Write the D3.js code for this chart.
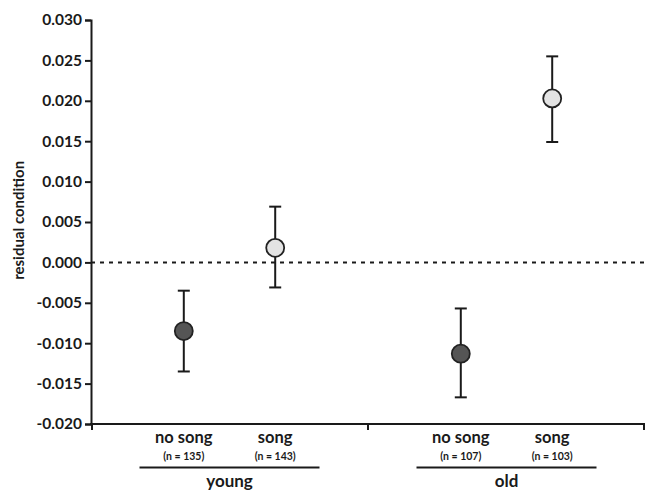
<!DOCTYPE html>
<html>
<head>
<meta charset="utf-8">
<script src="https://cdn.jsdelivr.net/npm/d3@7"></script>
<style>
  body { margin: 0; background: #fff; }
  svg text { font-family: Lato, "Open Sans", sans-serif; font-weight: bold; fill: #1a1a1a; }
</style>
</head>
<body>
<svg id="chart" width="646" height="490"></svg>
<script>
// data
var groups = ['young', 'old']
var songs = ['no song', 'song']
var counts = [[135, 143], [107, 103]]
var means = [[-0.0085, 0.0018], [-0.0113, 0.0203]]
var upper = [[-0.0035, 0.0069], [-0.0057, 0.0255]]
var lower = [[-0.0135, -0.0031], [-0.0167, 0.0149]]
var yTicks = [-0.020, -0.015, -0.010, -0.005, 0.000, 0.005, 0.010, 0.015, 0.020, 0.025, 0.030]

;(function () {
  var svg = d3.select('#chart')
  // plot box (note: "top" is a reserved window prop, so use plotTop)
  var plotLeft = 91, plotRight = 645, plotTop = 20, plotBottom = 424
  var ink = '#1a1a1a'

  var mapy = d3.scaleLinear().domain([-0.020, 0.030]).range([plotBottom, plotTop])
  var mapg = d3.scaleBand().domain(groups).range([plotLeft, plotRight])
  var maps = d3.scalePoint().domain(songs).range([0, mapg.bandwidth() * 0.33]).padding(0)

  function cx (gi, si) {
    var mid = mapg(groups[gi]) + mapg.bandwidth() / 2
    return mid - maps(songs[1]) / 2 + maps(songs[si])
  }

  var rows = []
  groups.forEach(function (g, gi) {
    songs.forEach(function (s, si) {
      rows.push({g: gi, s: si, mean: means[gi][si], hi: upper[gi][si], lo: lower[gi][si], n: counts[gi][si]})
    })
  })

  // zero line
  svg.append('line')
    .attr('x1', plotLeft).attr('x2', plotRight)
    .attr('y1', mapy(0)).attr('y2', mapy(0))
    .attr('stroke', ink).attr('stroke-width', 2)
    .attr('stroke-dasharray', '4,5')

  // y axis
  var yAxis = svg.append('g')
    .attr('transform', 'translate(' + plotLeft + ',0)')
    .call(d3.axisLeft(mapy).tickValues(yTicks).tickSize(6).tickPadding(3))
  yAxis.select('.domain').attr('stroke', ink).attr('stroke-width', 2)
  yAxis.selectAll('.tick line').attr('stroke', ink).attr('stroke-width', 2)
  yAxis.selectAll('.tick text')
    .attr('font-size', 15.5).attr('font-family', null).attr('fill', ink)
    .text(function (d) { return d3.format('.3f')(d).replace('−', '-') })

  // x axis
  svg.append('line')
    .attr('x1', plotLeft - 1).attr('x2', plotRight)
    .attr('y1', plotBottom).attr('y2', plotBottom)
    .attr('stroke', ink).attr('stroke-width', 2)
  var xTicks = [plotLeft + 1, mapg('old'), plotRight - 1]
  svg.selectAll('.xtick').data(xTicks).enter().append('line')
    .attr('x1', d => d).attr('x2', d => d)
    .attr('y1', plotBottom).attr('y2', plotBottom + 6)
    .attr('stroke', ink).attr('stroke-width', 2)

  // error bars
  var bars = svg.append('g')
  bars.selectAll('.err').data(rows).enter().append('line')
    .attr('x1', d => cx(d.g, d.s)).attr('x2', d => cx(d.g, d.s))
    .attr('y1', d => mapy(d.hi)).attr('y2', d => mapy(d.lo))
    .attr('stroke', ink).attr('stroke-width', 2)
  ;['hi', 'lo'].forEach(function (k) {
    bars.selectAll('.cap-' + k).data(rows).enter().append('line')
      .attr('x1', d => cx(d.g, d.s) - 6).attr('x2', d => cx(d.g, d.s) + 6)
      .attr('y1', d => mapy(d[k])).attr('y2', d => mapy(d[k]))
      .attr('stroke', ink).attr('stroke-width', 2)
  })

  // points
  svg.selectAll('.pt').data(rows).enter().append('circle')
    .attr('cx', d => cx(d.g, d.s))
    .attr('cy', d => mapy(d.mean))
    .attr('r', 9)
    .attr('fill', d => d.s === 0 ? '#555555' : '#e3e3e3')
    .attr('stroke', '#222').attr('stroke-width', 1.8)

  // category labels
  svg.selectAll('.cat').data(rows).enter().append('text')
    .attr('x', d => cx(d.g, d.s)).attr('y', 443)
    .attr('text-anchor', 'middle').attr('font-size', 16.5)
    .text(d => songs[d.s])
  svg.selectAll('.cnt').data(rows).enter().append('text')
    .attr('x', d => cx(d.g, d.s)).attr('y', 460)
    .attr('text-anchor', 'middle').attr('font-size', 10.5)
    .text(d => '(n = ' + d.n + ')')

  // group labels with underline
  groups.forEach(function (g) {
    var mid = mapg(g) + mapg.bandwidth() / 2
    svg.append('line')
      .attr('x1', mid - 90).attr('x2', mid + 90)
      .attr('y1', 467.5).attr('y2', 467.5)
      .attr('stroke', ink).attr('stroke-width', 2)
    svg.append('text')
      .attr('x', mid).attr('y', 487)
      .attr('text-anchor', 'middle').attr('font-size', 17)
      .text(g)
  })

  // y label
  svg.append('text')
    .attr('transform', 'translate(24,' + mapy(0.0052) + ') rotate(-90)')
    .attr('text-anchor', 'middle').attr('font-size', 15)
    .text('residual condition')
})()
</script>
</body>
</html>
